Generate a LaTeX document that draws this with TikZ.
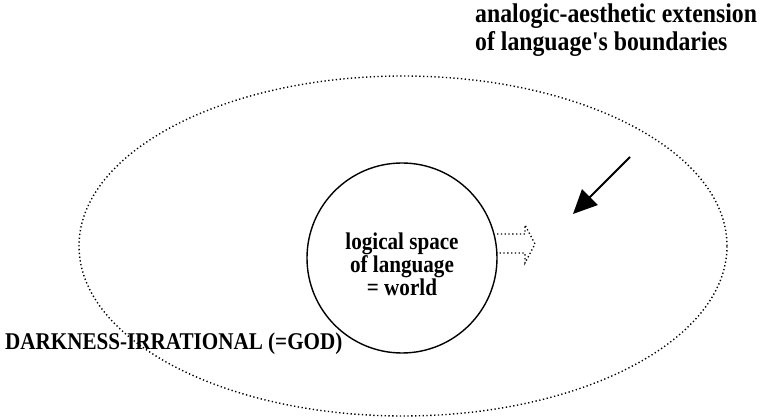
\documentclass[tikz,border=0pt]{standalone}
\usepackage{fontspec}
\setmainfont{Liberation Serif}
\newfontfamily\narrowserif[FakeStretch=0.88]{Liberation Serif}
\usetikzlibrary{shapes.geometric,arrows.meta}
\tikzset{
  lbl/.style={font=\narrowserif\bfseries\fontsize{24}{23}\selectfont, inner sep=0pt},
  dotline/.style={line width=1.4pt, dash pattern=on 1.3pt off 2.5pt},
}
\begin{document}
\begin{tikzpicture}[x=1pt,y=-1pt]
\useasboundingbox[fill=white] (0,0) rectangle (763,419);
% outer dotted ellipse
\node[ellipse, draw, dotline, minimum width=648pt, minimum height=340pt, inner sep=0pt] (outer) at (403,246) {};
% inner circle
\node[circle, draw, line width=1.4pt, minimum size=190pt, inner sep=0pt] (inner) at (402,258) {};
\node[lbl, align=center] (innertxt) at (402,264) {logical space\\ of language\\ = world};
% header
\node[lbl, align=left, anchor=north west, font=\narrowserif\bfseries\fontsize{27}{27.5}\selectfont] (head) at (475,4) {analogic-aesthetic extension\\of language{\char"27}s boundaries};
% darkness
\node[lbl, anchor=base west] (dark) at (5,350) {DARKNESS-IRRATIONAL (=GOD)};
% dotted hollow arrow from circle
\coordinate (da1) at (497,234);
\coordinate (da2) at (497,253);
\draw[dotline, line width=1.3pt] (da1) -- (525,234) -- (525,225) -- (535,244) -- (525,263) -- (525,253) -- (da2);
% solid arrow
\coordinate (sa) at (630,157);
\coordinate (sb) at (573,214);
\draw[line width=2pt, -{Triangle[length=24pt,width=22pt]}] (sa) -- (sb);
\end{tikzpicture}
\end{document}
